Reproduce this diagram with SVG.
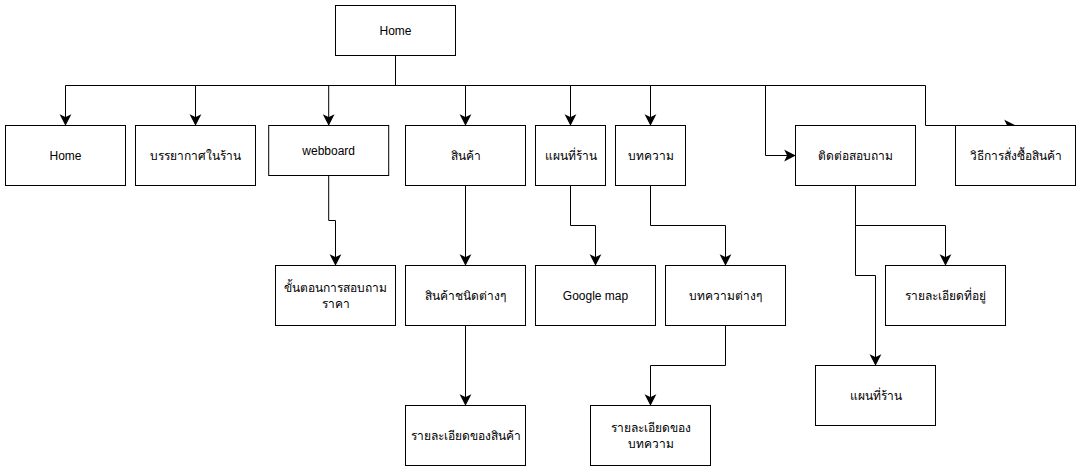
<svg xmlns="http://www.w3.org/2000/svg" width="1081" height="472" viewBox="0 0 1081 472">
<style>
.n rect{fill:#fff;stroke:#000;stroke-width:1}
.n text{font-family:"Liberation Sans",Arial,"Noto Sans","DejaVu Sans",sans-serif;font-size:12px;fill:#000;text-anchor:middle;dominant-baseline:central}
#edges path{fill:none;stroke:#000;stroke-width:1;marker-end:url(#arr)}
</style>
<defs>
<marker id="arr" markerUnits="userSpaceOnUse" markerWidth="12" markerHeight="12" viewBox="-8 -5 10 10" refX="0" refY="0" orient="auto" overflow="visible">
<path d="M-7.5,-3.8 L0,0 L-7.5,3.8 L-5.6,0 Z" fill="#000" stroke="#000" stroke-width="1"/>
</marker>
</defs>
<rect width="1081" height="472" fill="#fff"/>
<g id="edges">
<path d="M395.5,55.5 V85.5 H65.5 V124.5"/>
<path d="M395.5,85.5 H195.5 V124.5"/>
<path d="M395.5,85.5 H328.7 V124.5"/>
<path d="M395.5,85.5 H465.5 V124.5"/>
<path d="M395.5,85.5 H570.5 V124.5"/>
<path d="M395.5,85.5 H650.5 V124.5"/>
<path d="M395.5,85.5 H765.5 V155.5 H794.5"/>
<path d="M395.5,85.5 H925.5 V125.5 H1014.5"/>
<path d="M328.7,175.5 V220.5 H335.5 V264.5"/>
<path d="M465.5,185.5 V264.5"/>
<path d="M465.5,325.5 V404.5"/>
<path d="M570.5,185.5 V225.5 H595.5 V264.5"/>
<path d="M650.5,185.5 V225.5 H725.5 V264.5"/>
<path d="M725.5,325.5 V365.5 H650.5 V404.5"/>
<path d="M855.5,185.5 V225.5 H945.5 V264.5"/>
<path d="M855.5,225.5 V275.5 H875.5 V364.5"/>
</g>
<g id="n-home-top" class="n"><rect x="335.5" y="5.5" width="120" height="50"/><text x="395.5" y="30.5">Home</text></g>
<g id="n-home" class="n"><rect x="5.5" y="125.5" width="120" height="60"/><text x="65.5" y="155.5">Home</text></g>
<g id="n-atmosphere" class="n"><rect x="135.5" y="125.5" width="120" height="60"/><text x="195.5" y="155.5">บรรยากาศในร้าน</text></g>
<g id="n-webboard" class="n"><rect x="268.7" y="125.5" width="120" height="50"/><text x="328.7" y="150.5">webboard</text></g>
<g id="n-products" class="n"><rect x="405.5" y="125.5" width="120" height="60"/><text x="465.5" y="155.5">สินค้า</text></g>
<g id="n-map" class="n"><rect x="535.5" y="125.5" width="70" height="60"/><text x="570.5" y="155.5">แผนที่ร้าน</text></g>
<g id="n-articles" class="n"><rect x="615.5" y="125.5" width="70" height="60"/><text x="650.5" y="155.5">บทความ</text></g>
<g id="n-contact" class="n"><rect x="795.5" y="125.5" width="120" height="60"/><text x="855.5" y="155.5">ติดต่อสอบถาม</text></g>
<g id="n-order" class="n"><rect x="955.5" y="125.5" width="120" height="60"/><text x="1015.5" y="155.5">วิธีการสั่งซื้อสินค้า</text></g>
<g id="n-inquiry" class="n"><rect x="275.5" y="265.5" width="120" height="60"/><text x="335.5" y="287.5">ขั้นตอนการสอบถาม</text><text x="335.5" y="303.5">ราคา</text></g>
<g id="n-product-types" class="n"><rect x="405.5" y="265.5" width="120" height="60"/><text x="465.5" y="295.5">สินค้าชนิดต่างๆ</text></g>
<g id="n-googlemap" class="n"><rect x="535.5" y="265.5" width="120" height="60"/><text x="595.5" y="295.5">Google map</text></g>
<g id="n-article-list" class="n"><rect x="665.5" y="265.5" width="120" height="60"/><text x="725.5" y="295.5">บทความต่างๆ</text></g>
<g id="n-address" class="n"><rect x="885.5" y="265.5" width="120" height="60"/><text x="945.5" y="295.5">รายละเอียดที่อยู่</text></g>
<g id="n-map2" class="n"><rect x="815.5" y="365.5" width="120" height="60"/><text x="875.5" y="395.5">แผนที่ร้าน</text></g>
<g id="n-product-detail" class="n"><rect x="405.5" y="405.5" width="120" height="60"/><text x="465.5" y="435.5">รายละเอียดของสินค้า</text></g>
<g id="n-article-detail" class="n"><rect x="590.5" y="405.5" width="120" height="60"/><text x="650.5" y="427.5">รายละเอียดของ</text><text x="650.5" y="443.5">บทความ</text></g>
</svg>
